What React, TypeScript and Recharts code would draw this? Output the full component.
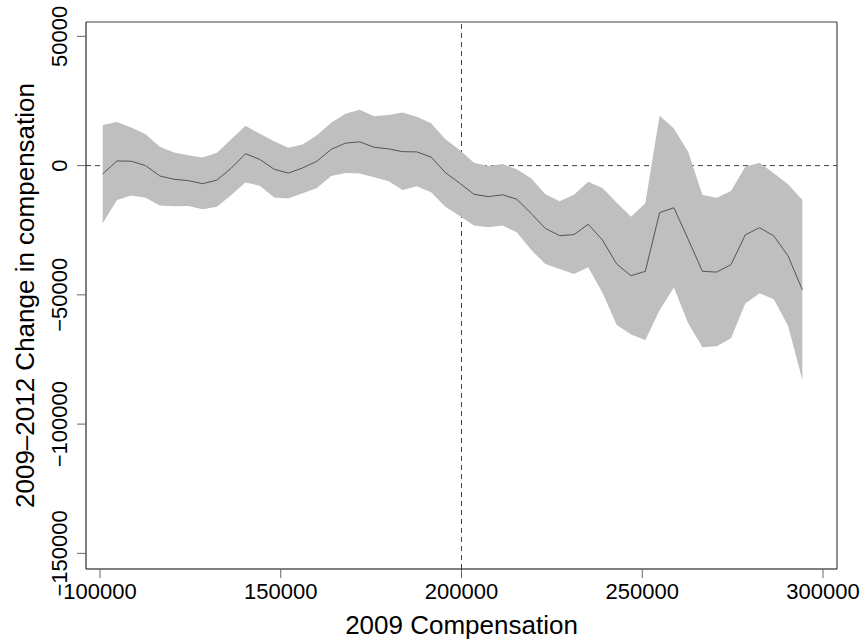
import React from "react";
import { ComposedChart, Area, Line, XAxis, YAxis, ReferenceLine, Label } from "recharts";

// 2009 compensation (bin centres)
const compensation2009 = [
    100750, 104700, 108650, 112600, 116550, 120500, 124450, 128400, 132350, 136300,
    140250, 144200, 148150, 152100, 156050, 160000, 163950, 167900, 171850, 175800,
    179750, 183700, 187650, 191600, 195550, 199500, 203450, 207400, 211350, 215300,
    219250, 223200, 227150, 231100, 235050, 239000, 242950, 246900, 250850, 254800,
    258750, 262700, 266650, 270600, 274550, 278500, 282450, 286400, 290350, 294300,
];

// estimated change 2009-2012
const changeEstimate = [
    -3200, 1800, 1700, 0, -4000, -5300, -5800, -7000, -5600, -1000,
    4600, 2400, -1400, -2900, -900, 1700, 6300, 8700, 9200, 7100,
    6500, 5400, 5300, 3300, -2700, -6800, -11100, -12000, -11300, -13000,
    -18500, -24300, -27100, -26700, -22700, -28800, -38100, -42600, -40900, -18200,
    -16300, -28500, -40900, -41200, -38300, -26800, -24000, -27200, -35000, -48100,
];

// lower confidence bound
const lowerBound = [
    -22300, -13300, -11600, -12400, -15400, -15700, -15600, -16900, -15900, -11400,
    -6500, -7800, -12300, -12700, -10700, -8700, -4000, -2900, -3100, -4500,
    -6000, -9400, -8000, -10300, -15900, -19500, -23200, -23800, -23200, -25800,
    -32600, -38100, -40000, -41900, -39300, -49200, -61700, -65300, -67500, -56000,
    -47200, -61000, -70300, -69900, -66800, -53300, -49400, -51700, -62000, -82900,
];

// upper confidence bound
const upperBound = [
    15700, 16900, 14700, 12100, 7300, 5100, 4000, 3100, 5000, 10200,
    15400, 12300, 9400, 6900, 8200, 11700, 16600, 20100, 21600, 19100,
    19600, 20500, 18900, 16400, 10200, 6000, 1100, -200, 600, -1400,
    -4900, -11100, -13800, -11300, -6200, -8700, -14400, -19800, -14600, 19300,
    14400, 5400, -11400, -12400, -9800, -400, 1100, -3000, -7200, -13300,
];

const xTicks = [100000, 150000, 200000, 250000, 300000];
const yTicks = [50000, 0, -50000, -100000, -150000];

const X_DOMAIN = [96127, 303873];
const Y_DOMAIN = [-156050, 55550];

const data = compensation2009.map((x, i) => ({
    x,
    mid: changeEstimate[i],
    band: [lowerBound[i], upperBound[i]],
}));

const FONT = "'Liberation Sans', Arial, Helvetica, sans-serif";

const fmt = (v: number) => (v < 0 ? "\u2212" + Math.abs(v) : String(v));

const XTick = ({ x, payload }: any) => (
    <text x={x} y={599} textAnchor="middle" fontSize={22} fill="#000" fontFamily={FONT}>
        {fmt(payload.value)}
    </text>
);

const YTick = ({ y, payload }: any) => (
    <text
        x={67}
        y={y}
        transform={`rotate(-90 67 ${y})`}
        textAnchor="middle"
        fontSize={22}
        fill="#000"
        fontFamily={FONT}
    >
        {fmt(payload.value)}
    </text>
);

export default function App() {
    return (
        <div style={{ position: "absolute", left: 0, top: 0, background: "#fff" }}>
            <ComposedChart
                width={863}
                height={643}
                data={data}
                margin={{ top: 22, right: 26, left: 0, bottom: 0 }}
            >
                <XAxis
                    type="number"
                    dataKey="x"
                    domain={X_DOMAIN}
                    ticks={xTicks}
                    allowDataOverflow
                    height={74}
                    axisLine={{ stroke: "#000" }}
                    tickLine={{ stroke: "#666" }}
                    tickSize={9}
                    tick={<XTick />}
                >
                    <Label
                        content={({ viewBox }: any) => (
                            <text
                                x={viewBox.x + viewBox.width / 2}
                                y={634}
                                textAnchor="middle"
                                fontSize={26}
                                fill="#000"
                                fontFamily={FONT}
                            >
                                2009 Compensation
                            </text>
                        )}
                    />
                </XAxis>
                <YAxis
                    type="number"
                    domain={Y_DOMAIN}
                    ticks={yTicks}
                    allowDataOverflow
                    width={86}
                    axisLine={{ stroke: "#000" }}
                    tickLine={{ stroke: "#666" }}
                    tickSize={9}
                    tick={<YTick />}
                >
                    <Label
                        content={({ viewBox }: any) => {
                            const cy = viewBox.y + viewBox.height / 2;
                            return (
                                <text
                                    x={34}
                                    y={cy}
                                    transform={`rotate(-90 34 ${cy})`}
                                    textAnchor="middle"
                                    fontSize={26}
                                    fill="#000"
                                    fontFamily={FONT}
                                >
                                    2009–2012 Change in compensation
                                </text>
                            );
                        }}
                    />
                </YAxis>
                {/* plot region frame: top and right edges */}
                <ReferenceLine y={Y_DOMAIN[1]} stroke="#808080" strokeWidth={1.5} zIndex={50} />
                <ReferenceLine x={X_DOMAIN[1]} stroke="#222" zIndex={50} />
                <ReferenceLine x={200000} stroke="#444" strokeDasharray="5 4" zIndex={50} />
                <ReferenceLine y={0} stroke="#444" strokeDasharray="5 4" zIndex={50} />
                <Area
                    type="linear"
                    dataKey="band"
                    stroke="none"
                    fill="#bfbfbf"
                    fillOpacity={1}
                    isAnimationActive={false}
                />
                <Line
                    type="linear"
                    dataKey="mid"
                    stroke="#555"
                    strokeWidth={1}
                    dot={false}
                    isAnimationActive={false}
                />
            </ComposedChart>
        </div>
    );
}
